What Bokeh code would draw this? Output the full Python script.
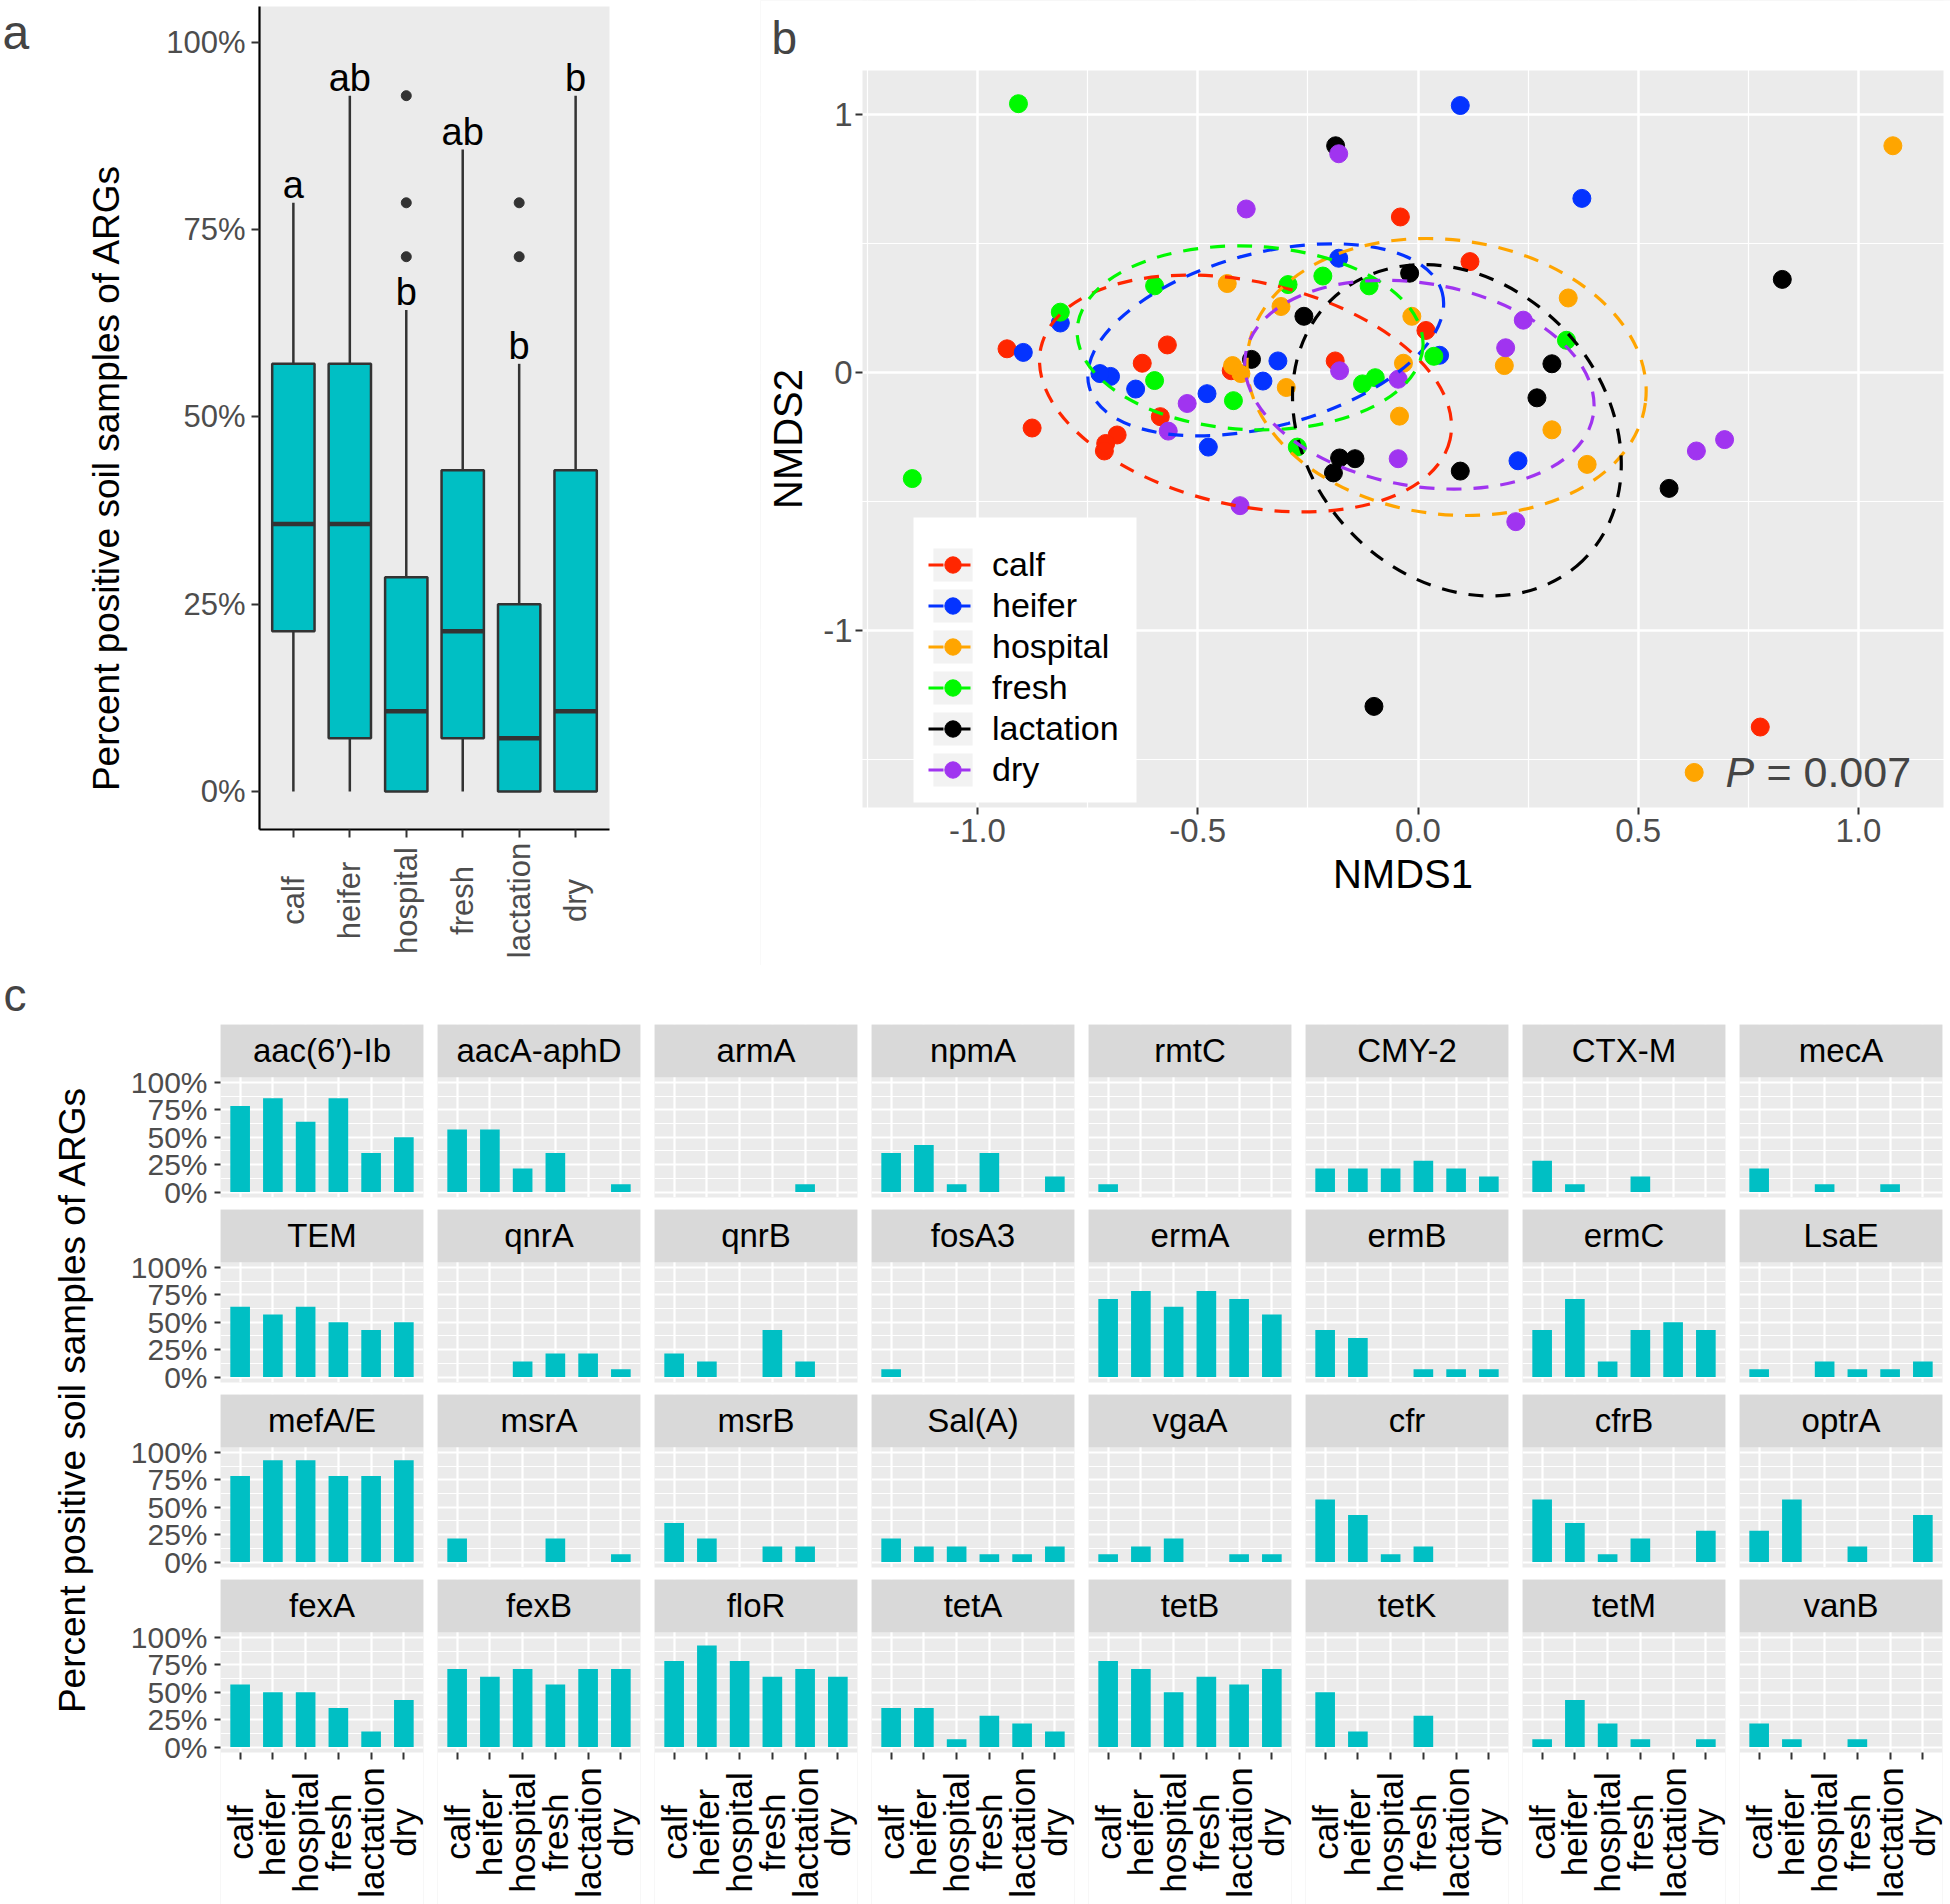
import numpy as np
from math import pi
from bokeh.plotting import figure
from bokeh.models import (Range1d, FixedTicker, Label, LabelSet, ColumnDataSource,
                          Legend, LegendItem, BoxAnnotation)
from bokeh.layouts import row, column
from bokeh.embed import file_html
from bokeh.resources import INLINE
from bokeh.core.properties import value

FONT = "Liberation Sans"
TEAL = "#00BFC4"
PANEL_BG = "#EBEBEB"
STRIP_BG = "#D9D9D9"
TICK_GREY = "#4D4D4D"
DARK = "#333333"

# ---------------- shared categories ----------------
groups = ["calf", "heifer", "hospital", "fresh", "lactation", "dry"]
group_colors = ["#FF2600", "#0433FF", "#FFA500", "#00F900", "#000000", "#A034F0"]

# ---------------- panel a : box plot (fractions) ----------------
box_low = [0.0, 0.0, 0.0, 0.0, 0.0, 0.0]
box_q1 = [0.214, 0.071, 0.0, 0.071, 0.0, 0.0]
box_median = [0.357, 0.357, 0.107, 0.214, 0.071, 0.107]
box_q3 = [0.571, 0.571, 0.286, 0.429, 0.250, 0.429]
box_high = [0.786, 0.929, 0.643, 0.857, 0.571, 0.929]
outlier_group = ["hospital", "hospital", "hospital", "lactation", "lactation"]
outlier_value = [0.714, 0.786, 0.929, 0.714, 0.786]
sig_letters = ["a", "ab", "b", "ab", "b", "b"]
pct_ticks = [0, 0.25, 0.5, 0.75, 1]
pct_labels = ["0%", "25%", "50%", "75%", "100%"]

# ---------------- panel b : NMDS ----------------
calf_x = [-0.040, 0.118, 0.018, -0.188, -0.424, -0.569, -0.626, -0.585, -0.683, -0.709, -0.712, -0.876, -0.933, 0.777]
calf_y = [0.604, 0.431, 0.164, 0.046, 0.008, 0.108, 0.037, -0.170, -0.241, -0.274, -0.303, -0.214, 0.093, -1.373]
heifer_x = [0.096, 0.372, -0.180, 0.049, -0.318, -0.352, -0.479, -0.476, -0.641, -0.698, -0.722, -0.812, -0.896, 0.227]
heifer_y = [1.036, 0.676, 0.444, 0.068, 0.046, -0.032, -0.081, -0.288, -0.063, -0.014, -0.003, 0.193, 0.079, -0.341]
hospital_x = [1.078, 0.341, -0.014, -0.033, 0.196, 0.304, 0.384, -0.042, -0.299, -0.311, -0.433, -0.421, -0.402, 0.627]
hospital_y = [0.880, 0.290, 0.219, 0.037, 0.028, -0.221, -0.355, -0.168, -0.057, 0.257, 0.346, 0.028, -0.003, -1.549]
fresh_x = [-0.907, -1.148, -0.812, -0.598, -0.598, -0.419, -0.295, -0.216, -0.111, 0.036, -0.097, -0.126, 0.337, -0.274]
fresh_y = [1.043, -0.410, 0.235, 0.337, -0.030, -0.108, 0.342, 0.375, 0.337, 0.064, -0.019, -0.043, 0.126, -0.288]
lactation_x = [-0.187, -0.019, -0.259, -0.378, 0.304, 0.270, -0.178, -0.143, -0.192, 0.096, 0.570, 0.827, -0.100]
lactation_y = [0.880, 0.386, 0.219, 0.052, 0.035, -0.097, -0.330, -0.333, -0.388, -0.381, -0.448, 0.362, -1.293]
dry_x = [-0.180, -0.390, 0.239, 0.199, -0.178, -0.045, -0.045, -0.524, -0.567, -0.404, 0.222, 0.632, 0.696]
dry_y = [0.849, 0.635, 0.204, 0.097, 0.008, -0.025, -0.333, -0.119, -0.226, -0.515, -0.577, -0.303, -0.259]

# stat_ellipse outlines (centre, full width, full height, rotation in radians) per group
ellipse_x = [-0.3916, -0.3457, 0.0649, -0.3812, 0.0883, 0.0032]
ellipse_y = [-0.0802, 0.1279, -0.0163, 0.1353, -0.2229, -0.0461]
ellipse_w = [0.952, 0.8295, 0.9103, 0.786, 0.8223, 0.8014]
ellipse_h = [0.8674, 0.6713, 1.0636, 0.7109, 1.1411, 0.7853]
ellipse_angle = [-0.2217, 0.2609, -0.1304, -0.0478, -0.8046, -0.1763]

nmds1_ticks = [-1, -0.5, 0, 0.5, 1]
nmds1_labels = ["-1.0", "-0.5", "0.0", "0.5", "1.0"]
nmds2_ticks = [-1, 0, 1]
nmds2_labels = ["-1", "0", "1"]

# ---------------- panel c : per-gene bars (percent) ----------------
genes = ["aac(6\u2032)-Ib", "aacA-aphD", "armA", "npmA", "rmtC", "CMY-2", "CTX-M", "mecA",
         "TEM", "qnrA", "qnrB", "fosA3", "ermA", "ermB", "ermC", "LsaE",
         "mefA/E", "msrA", "msrB", "Sal(A)", "vgaA", "cfr", "cfrB", "optrA",
         "fexA", "fexB", "floR", "tetA", "tetB", "tetK", "tetM", "vanB"]
calf_pct = [78.6, 57.1, 0, 35.7, 7.1, 21.4, 28.6, 21.4,
            64.3, 0, 21.4, 7.1, 71.4, 42.9, 42.9, 7.1,
            78.6, 21.4, 35.7, 21.4, 7.1, 57.1, 57.1, 28.6,
            57.1, 71.4, 78.6, 35.7, 78.6, 50.0, 7.1, 21.4]
heifer_pct = [85.7, 57.1, 0, 42.9, 0, 21.4, 7.1, 0,
              57.1, 0, 14.3, 0, 78.6, 35.7, 71.4, 0,
              92.9, 0, 21.4, 14.3, 14.3, 42.9, 35.7, 57.1,
              50.0, 64.3, 92.9, 35.7, 71.4, 14.3, 42.9, 7.1]
hospital_pct = [64.3, 21.4, 0, 7.1, 0, 21.4, 0, 7.1,
                64.3, 14.3, 0, 0, 64.3, 0, 14.3, 14.3,
                92.9, 0, 0, 14.3, 21.4, 7.1, 7.1, 0,
                50.0, 71.4, 78.6, 7.1, 50.0, 0, 21.4, 0]
fresh_pct = [85.7, 35.7, 0, 35.7, 0, 28.6, 14.3, 0,
             50.0, 21.4, 42.9, 0, 78.6, 7.1, 42.9, 7.1,
             78.6, 21.4, 14.3, 7.1, 0, 14.3, 21.4, 14.3,
             35.7, 57.1, 64.3, 28.6, 64.3, 28.6, 7.1, 7.1]
lactation_pct = [35.7, 0, 7.1, 0, 0, 21.4, 0, 7.1,
                 42.9, 21.4, 14.3, 0, 71.4, 7.1, 50.0, 7.1,
                 78.6, 0, 14.3, 7.1, 7.1, 0, 0, 0,
                 14.3, 71.4, 71.4, 21.4, 57.1, 0, 0, 0]
dry_pct = [50.0, 7.1, 0, 14.3, 0, 14.3, 0, 0,
           50.0, 7.1, 0, 0, 57.1, 7.1, 42.9, 14.3,
           92.9, 7.1, 0, 14.3, 7.1, 0, 28.6, 42.9,
           42.9, 71.4, 64.3, 14.3, 71.4, 0, 7.1, 0]

xs = np.arange(1, len(groups) + 1)
pct_overrides = {(int(t) if float(t).is_integer() else t): l for t, l in zip(pct_ticks, pct_labels)}

TOP_H = 965  # height of the row holding panels a and b


def base_fig(**kw):
    p = figure(output_backend="svg", toolbar_location=None, title=None, **kw)
    p.outline_line_color = None
    p.border_fill_color = "white"
    return p


def style_axis(ax, size, color=TICK_GREY, tick_out=7, line_color=None, line_width=2):
    ax.axis_line_color = line_color
    ax.axis_line_width = line_width
    ax.major_tick_line_color = DARK
    ax.major_tick_line_width = 2
    ax.major_tick_out = tick_out
    ax.major_tick_in = 0
    ax.minor_tick_line_color = None
    ax.major_label_text_font = FONT
    ax.major_label_text_font_size = size
    ax.major_label_text_color = color
    ax.axis_label_text_font = FONT
    ax.axis_label_text_font_style = "normal"
    ax.axis_label_text_color = "black"


# ======================= panel a =======================
A_PANEL = dict(left=0.4, right=6.6, bottom=-0.05073, top=1.04806)
pa = base_fig(width=760, height=TOP_H, x_range=Range1d(-4.188, 9.2749), y_range=Range1d(-0.23231, 1.05607),
              min_border=0, x_axis_location="below", y_axis_location="left")
pa.background_fill_color = "white"
pa.grid.visible = False
pa.add_layout(BoxAnnotation(**A_PANEL, fill_color=PANEL_BG, fill_alpha=1, line_color=None, level="underlay"))

pa.segment(x0=xs, y0=box_low, x1=xs, y1=box_q1, line_color=DARK, line_width=2.5)
pa.segment(x0=xs, y0=box_q3, x1=xs, y1=box_high, line_color=DARK, line_width=2.5)
pa.vbar(x=xs, width=0.75, bottom=box_q1, top=box_q3, fill_color=TEAL, line_color=DARK, line_width=2.5)
pa.segment(x0=xs - 0.375, y0=box_median, x1=xs + 0.375, y1=box_median, line_color=DARK, line_width=4.5)
out_x = [groups.index(g) + 1 for g in outlier_group]
pa.scatter(x=out_x, y=outlier_value, size=10, color=DARK, marker="circle")
pa.text(x=xs, y=np.array(box_high) + 0.024, text=sig_letters, text_font=value(FONT),
        text_font_size="38px", text_align="center", text_baseline="middle", text_color="black")

ya = pa.yaxis[0]
ya.ticker = FixedTicker(ticks=pct_ticks)
ya.major_label_overrides = pct_overrides
ya.fixed_location = A_PANEL["left"]
ya.bounds = (A_PANEL["bottom"], A_PANEL["top"])
style_axis(ya, "31px", tick_out=8, line_color="black", line_width=2.2)
ya.major_label_standoff = 6
xa = pa.xaxis[0]
xa.ticker = FixedTicker(ticks=list(xs))
xa.major_label_overrides = {int(i): "" for i in xs}
xa.fixed_location = A_PANEL["bottom"]
xa.bounds = (A_PANEL["left"], A_PANEL["right"])
style_axis(xa, "31px", tick_out=8, line_color="black", line_width=2.2)

pa.add_layout(Label(x=106, y=TOP_H - 477, x_units="screen", y_units="screen",
                    text="Percent positive soil samples of ARGs", angle=pi / 2,
                    text_align="center", text_baseline="middle", text_font=FONT,
                    text_font_size="37px", text_color="black"))
pa_lab = ColumnDataSource(dict(x=list(xs), y=[TOP_H - 900] * len(groups), text=groups))
pa.add_layout(LabelSet(x="x", y="y", text="text", source=pa_lab, y_units="screen", angle=pi / 2,
                       text_align="center", text_baseline="middle", text_font=value(FONT),
                       text_font_size="31px", text_color=TICK_GREY))
pa.add_layout(Label(x=2, y=TOP_H - 32, x_units="screen", y_units="screen", text="a", text_font=FONT,
                    text_font_size="48px", text_align="left", text_baseline="middle"))

# ======================= panel b =======================
B_PANEL = dict(left=-1.26107, right=1.19296, bottom=-1.68488, top=1.17171)
B_X = (-1.49262, 1.20885)
B_Y = (-2.29729, 1.44302)
pb = base_fig(width=1190, height=TOP_H, x_range=Range1d(*B_X), y_range=Range1d(*B_Y), min_border=0)
pb.background_fill_color = PANEL_BG
pb.xgrid.ticker = FixedTicker(ticks=nmds1_ticks, minor_ticks=[-1.25, -0.75, -0.25, 0.25, 0.75])
pb.ygrid.ticker = FixedTicker(ticks=nmds2_ticks, minor_ticks=[-1.5, -0.5, 0.5])
for g in (pb.xgrid[0], pb.ygrid[0]):
    g.grid_line_color = "white"
    g.grid_line_width = 2.5
    g.minor_grid_line_color = "white"
    g.minor_grid_line_width = 1.2

xs_b = [calf_x, heifer_x, hospital_x, fresh_x, lactation_x, dry_x]
ys_b = [calf_y, heifer_y, hospital_y, fresh_y, lactation_y, dry_y]
DASH = "15 12"
items = []
for g, c, gx, gy in zip(groups, group_colors, xs_b, ys_b):
    key_bg = pb.quad(left=[np.nan], right=[np.nan], top=[np.nan], bottom=[np.nan],
                     fill_color="#F2F2F2", line_color=None)
    key_line = pb.line(x=[np.nan], y=[np.nan], line_color=c, line_width=3.2, line_dash=DASH)
    pts = pb.scatter(x=gx, y=gy, size=18, color=c, marker="circle")
    items.append(LegendItem(label=g, renderers=[key_bg, key_line, pts]))

pb.ellipse(x=ellipse_x, y=ellipse_y, width=ellipse_w, height=ellipse_h, angle=ellipse_angle,
           fill_color=None, line_color=group_colors, line_width=3.2, line_dash=DASH)

# white masks outside the grey panel (under the axes, over the grid)
for box in (dict(left=B_X[0], right=B_PANEL["left"], bottom=B_Y[0], top=B_Y[1]),
            dict(left=B_PANEL["right"], right=B_X[1], bottom=B_Y[0], top=B_Y[1]),
            dict(left=B_X[0], right=B_X[1], bottom=B_PANEL["top"], top=B_Y[1]),
            dict(left=B_X[0], right=B_X[1], bottom=B_Y[0], top=B_PANEL["bottom"])):
    pb.add_layout(BoxAnnotation(**box, fill_color="white", fill_alpha=1, line_color=None, level="glyph"))

# legend box (white background) and legend entries
pb.add_layout(BoxAnnotation(left=-1.1453, right=-0.6390, bottom=-1.6655, top=-0.5609,
                            fill_color="white", fill_alpha=1, line_color=None))
legend = Legend(items=items, location=(168, TOP_H - 789.5), margin=0, padding=0, spacing=0,
                glyph_width=49, glyph_height=41, label_standoff=15,
                label_text_font=FONT, label_text_font_size="34px", label_text_color="black",
                border_line_color=None, background_fill_color="white", background_fill_alpha=0)
pb.add_layout(legend)

pb.add_layout(Label(x=0.698, y=-1.5465, text="P", text_font=FONT, text_font_size="43px",
                    text_font_style="italic", text_align="left", text_baseline="middle"))
pb.add_layout(Label(x=0.791, y=-1.5465, text="= 0.007", text_font=FONT, text_font_size="43px",
                    text_align="left", text_baseline="middle"))
pb.add_layout(Label(x=11, y=TOP_H - 37, x_units="screen", y_units="screen", text="b", text_font=FONT,
                    text_font_size="46px", text_align="left", text_baseline="middle"))

xb = pb.xaxis[0]
xb.ticker = FixedTicker(ticks=nmds1_ticks)
xb.major_label_overrides = {(int(t) if float(t).is_integer() else t): l for t, l in zip(nmds1_ticks, nmds1_labels)}
xb.fixed_location = B_PANEL["bottom"]
xb.bounds = (B_PANEL["left"], B_PANEL["right"])
xb.axis_label = "NMDS1"
style_axis(xb, "33px")
xb.major_label_standoff = 5
xb.axis_label_standoff = 6
xb.axis_label_text_font_size = "40px"
yb = pb.yaxis[0]
yb.ticker = FixedTicker(ticks=nmds2_ticks)
yb.major_label_overrides = {int(t): l for t, l in zip(nmds2_ticks, nmds2_labels)}
yb.fixed_location = B_PANEL["left"]
yb.bounds = (B_PANEL["bottom"], B_PANEL["top"])
yb.axis_label = "NMDS2"
style_axis(yb, "33px")
yb.major_label_standoff = 3
yb.axis_label_standoff = 10
yb.axis_label_text_font_size = "40px"

# ======================= panel c =======================
pct_by_group = [calf_pct, heifer_pct, hospital_pct, fresh_pct, lactation_pct, dry_pct]
n_cols = 8
n_rows = len(genes) // n_cols
PANEL_TOP = 1.531
facet_rows = []
for r in range(n_rows):
    figs = []
    last = r == n_rows - 1
    for c in range(n_cols):
        gi = r * n_cols + c
        vals = [pct_by_group[k][gi] / 100.0 for k in range(len(groups))]
        bl = 100 if c == 0 else 0
        br = 8 if c == n_cols - 1 else 14
        bt = (1024 - TOP_H) if r == 0 else 0
        bb = 0 if last else 12
        fh = 325 if last else 173
        y_lo = -1.439 if last else -0.05
        p = base_fig(width=bl + 203 + br, height=bt + fh + bb,
                     x_range=Range1d(0.4, 6.6), y_range=Range1d(y_lo, PANEL_TOP),
                     x_axis_location="below" if last else None,
                     y_axis_location="left" if c == 0 else None,
                     min_border_left=bl, min_border_right=br, min_border_top=bt, min_border_bottom=bb)
        p.background_fill_color = PANEL_BG
        p.xgrid.ticker = FixedTicker(ticks=list(xs))
        p.ygrid.ticker = FixedTicker(ticks=pct_ticks, minor_ticks=[0.125, 0.375, 0.625, 0.875])
        for g in (p.xgrid[0], p.ygrid[0]):
            g.grid_line_color = "white"
            g.grid_line_width = 2.2
            g.minor_grid_line_color = "white"
            g.minor_grid_line_width = 1.1
        p.vbar(x=xs, top=vals, width=0.6, fill_color=TEAL, line_color=None)
        p.add_layout(BoxAnnotation(left=0.4, right=6.6, bottom=1.05, top=PANEL_TOP, fill_color=STRIP_BG,
                                   fill_alpha=1, line_color=None))
        p.add_layout(Label(x=3.5, y=1.2925, text=genes[gi], text_font=FONT, text_font_size="33px",
                           text_align="center", text_baseline="middle", text_color="black"))
        if c == 0:
            ax = p.yaxis[0]
            ax.ticker = FixedTicker(ticks=pct_ticks)
            ax.major_label_overrides = pct_overrides
            style_axis(ax, "30px", tick_out=6)
            ax.major_label_standoff = 7
        if last:
            p.add_layout(BoxAnnotation(left=0.4, right=6.6, bottom=y_lo, top=-0.05, fill_color="white",
                                       fill_alpha=1, line_color=None, level="glyph"))
            ax = p.xaxis[0]
            ax.ticker = FixedTicker(ticks=list(xs))
            ax.major_label_overrides = {int(i): "" for i in xs}
            ax.fixed_location = -0.05
            style_axis(ax, "30px", tick_out=7)
            lab = ColumnDataSource(dict(x=list(xs), y=[72] * len(groups), text=groups))
            p.add_layout(LabelSet(x="x", y="y", text="text", source=lab, y_units="screen", angle=pi / 2,
                                  text_align="center", text_baseline="middle", text_font=value(FONT),
                                  text_font_size="35px", text_color="black"))
        figs.append(p)
    facet_rows.append(row(*figs))

pc_title = base_fig(width=120, height=1904 - TOP_H, x_range=Range1d(0, 1), y_range=Range1d(0, 1),
                    x_axis_location=None, y_axis_location=None, min_border=0)
pc_title.grid.visible = False
pc_title.background_fill_color = "white"
pc_title.add_layout(Label(x=72, y=505, x_units="screen", y_units="screen",
                          text="Percent positive soil samples of ARGs", angle=pi / 2,
                          text_align="center", text_baseline="middle", text_font=FONT,
                          text_font_size="37px", text_color="black"))
pc_title.add_layout(Label(x=3, y=910, x_units="screen", y_units="screen", text="c", text_font=FONT,
                          text_font_size="46px", text_align="left", text_baseline="middle"))

layout = column(row(pa, pb), row(pc_title, column(*facet_rows)))

open("out.html", "w").write(file_html(layout, INLINE))
